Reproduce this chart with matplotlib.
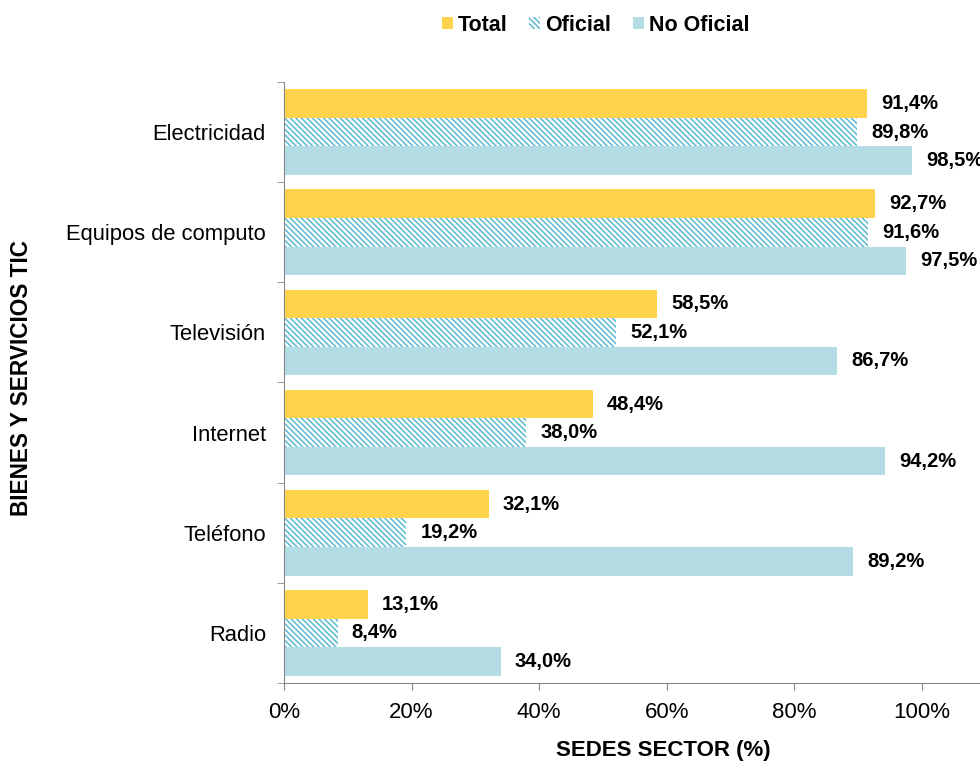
import matplotlib.pyplot as plt
import numpy as np
from matplotlib.patches import Patch

plt.rcParams['font.family'] = ['Liberation Sans', 'DejaVu Sans']
plt.rcParams['hatch.linewidth'] = 1.1

categories = ['Electricidad', 'Equipos de computo', 'Televisión', 'Internet', 'Teléfono', 'Radio']
total = [91.4, 92.7, 58.5, 48.4, 32.1, 13.1]
oficial = [89.8, 91.6, 52.1, 38.0, 19.2, 8.4]
no_oficial = [98.5, 97.5, 86.7, 94.2, 89.2, 34.0]

c_total = '#FFD34C'
c_no = '#B3DCE5'
c_hatch = '#5AB8D2'
hatch = '\\' * 6

fig = plt.figure(figsize=(9.8, 7.63), dpi=100)
ax = fig.add_axes([0.2898, 0.1049, 0.7102, 0.7876])

y = np.arange(len(categories))
h = 0.285
ax.barh(y - h, total, height=h, color=c_total, linewidth=0)
ax.barh(y, oficial, height=h, color='white', edgecolor=c_hatch, hatch=hatch, linewidth=0)
ax.barh(y + h, no_oficial, height=h, color=c_no, linewidth=0)

def fmt(v):
    return ('%.1f%%' % v).replace('.', ',')

for vals, off in [(total, -h), (oficial, 0), (no_oficial, h)]:
    for i, v in enumerate(vals):
        ax.text(v + 2.2, i + off, fmt(v), va='center', ha='left',
                fontsize=14.5, fontweight='bold')

ax.set_xlim(0, 109.1)
ax.set_ylim(len(categories) - 0.5, -0.5)
ax.set_xticks([0, 20, 40, 60, 80, 100])
ax.set_xticklabels(['0%', '20%', '40%', '60%', '80%', '100%'], fontsize=16)
ax.set_yticks(y)
ax.set_yticklabels(categories, fontsize=15.8)
ax.tick_params(axis='y', which='major', length=0, pad=13)
ax.set_yticks(np.arange(len(categories) + 1) - 0.5, minor=True)
ax.tick_params(axis='y', which='minor', length=5, color='#888888')
ax.tick_params(axis='x', length=5, color='#888888', pad=9)

for s in ['top', 'right']:
    ax.spines[s].set_visible(False)
for s in ['left', 'bottom']:
    ax.spines[s].set_color('#888888')

fig.text(0.0224, 0.505, 'BIENES Y SERVICIOS TIC', rotation=90, va='center', ha='center',
         fontsize=16.3, fontweight='bold')
fig.text(0.677, 0.017, 'SEDES SECTOR (%)', ha='center', va='center',
         fontsize=16, fontweight='bold')

handles = [Patch(facecolor=c_total, linewidth=0),
           Patch(facecolor='white', edgecolor=c_hatch, hatch=hatch, linewidth=0),
           Patch(facecolor=c_no, linewidth=0)]
fig.legend(handles, ['Total', 'Oficial', 'No Oficial'], loc='center', bbox_to_anchor=(0.608, 0.967),
           ncol=3, frameon=False, prop={'weight': 'bold', 'size': 15.5},
           handlelength=0.5, handleheight=0.5, handletextpad=0.25, columnspacing=1.0)

fig.savefig('out.png', dpi=100)
